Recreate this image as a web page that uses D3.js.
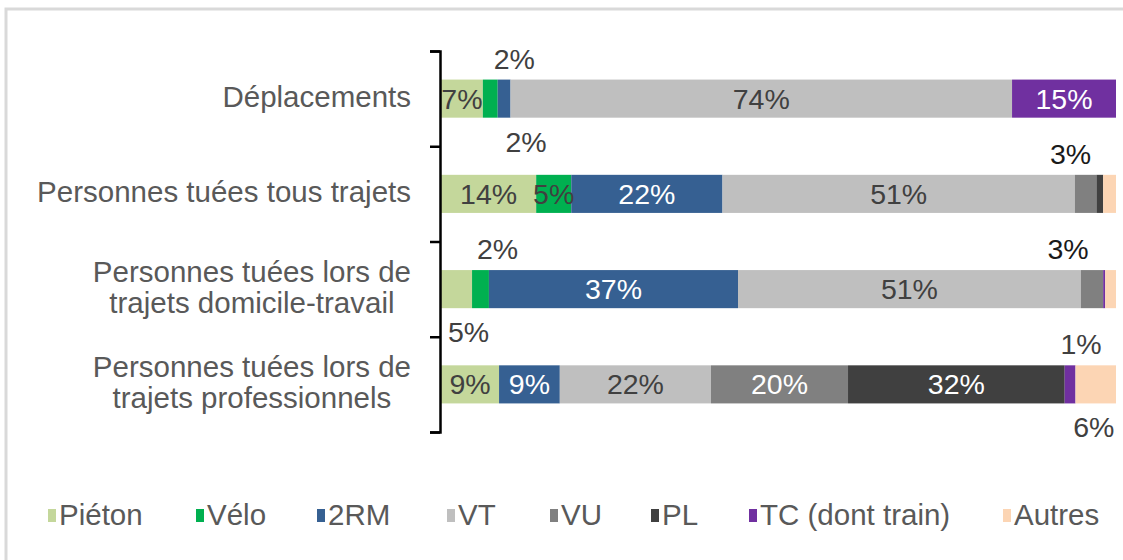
<!DOCTYPE html>
<html>
<head>
<meta charset="utf-8">
<script src="https://cdn.jsdelivr.net/npm/d3@7"></script>
<style>
  html, body { margin: 0; padding: 0; background: #fff; }
  svg text { font-family: "Liberation Sans", Arial, sans-serif; }
</style>
</head>
<body>
<svg id="chart" width="1123" height="560"></svg>
<script>
// categories, top to bottom
const categories = [
  'Déplacements',
  'Personnes tuées tous trajets',
  'Personnes tuées lors de\ntrajets domicile-travail',
  'Personnes tuées lors de\ntrajets professionnels'
];

const seriesNames = ['Piéton', 'Vélo', '2RM', 'VT', 'VU', 'PL', 'TC (dont train)', 'Autres'];

// shares in %, one array per series, in category order
const pieton = [6.2, 14.1, 4.6, 8.6];
const velo = [2.2, 5.2, 2.5, 0];
const deuxRM = [1.9, 22.4, 36.9, 9.0];
const vt = [74.3, 52.2, 50.8, 22.4];
const vu = [0, 3.2, 3.3, 20.3];
const pl = [0, 1.0, 0, 32.1];
const tc = [15.4, 0, 0.3, 1.6];
const autres = [0, 1.9, 1.6, 6.0];

// label text shown for each segment (null = no label)
const pietonLabels = ['7%', '14%', '5%', '9%'];
const veloLabels = ['2%', '5%', '2%', null];
const deuxRMLabels = ['2%', '22%', '37%', '9%'];
const vtLabels = ['74%', '51%', '51%', '22%'];
const vuLabels = [null, '3%', '3%', '20%'];
const plLabels = [null, null, null, '32%'];
const tcLabels = ['15%', null, null, '1%'];
const autresLabels = [null, null, null, '6%'];

const seriesValues = [pieton, velo, deuxRM, vt, vu, pl, tc, autres];
const seriesLabels = [pietonLabels, veloLabels, deuxRMLabels, vtLabels, vuLabels, plLabels, tcLabels, autresLabels];

const colors = ['#C4D79B', '#00B050', '#366092', '#BFBFBF', '#808080', '#404040', '#7030A0', '#FCD5B4'];
const insideText = ['#404040', '#404040', '#ffffff', '#404040', '#ffffff', '#ffffff', '#ffffff', '#404040'];

// labels that Excel moved outside the bar: [category index, series index] -> placement
const outsideLabels = {
  '0-1': {pos: 'above', dx: 24},
  '0-2': {pos: 'below', dx: 22},
  '1-4': {pos: 'above', dx: -15, color: '#1a1a1a'},
  '2-0': {pos: 'below', dx: 12},
  '2-1': {pos: 'above', dx: 17},
  '2-4': {pos: 'above', dx: -24, color: '#1a1a1a'},
  '3-6': {pos: 'above', dx: 11},
  '3-7': {pos: 'below', dx: -2}
};

const table = categories.map((c, i) => {
  const row = {category: c};
  seriesNames.forEach((s, j) => { row[s] = seriesValues[j][i]; });
  return row;
});

const svg = d3.select('#chart');

// light frame of the chart area
svg.append('rect')
  .attr('x', 6).attr('y', 9)
  .attr('width', 1140).attr('height', 580)
  .attr('fill', 'none')
  .attr('stroke', '#d9d9d9')
  .attr('stroke-width', 3);

const x = d3.scaleLinear().domain([0, 100]).range([441, 1116]);
const y = d3.scaleBand()
  .domain(categories)
  .range([51, 432])
  .paddingInner(0.6)
  .paddingOuter(0.3);

const stack = d3.stack().keys(seriesNames);
const layers = stack(table);

const g = svg.append('g');

layers.forEach((layer, j) => {
  g.selectAll('.seg-' + j)
    .data(layer)
    .enter()
    .append('rect')
    .attr('class', 'seg-' + j)
    .attr('x', d => x(d[0]))
    .attr('y', d => y(d.data.category))
    .attr('width', d => Math.max(0, x(d[1]) - x(d[0])))
    .attr('height', y.bandwidth())
    .attr('fill', colors[j]);
});

// data labels
layers.forEach((layer, j) => {
  layer.forEach((d, i) => {
    const txt = seriesLabels[j][i];
    if (!txt) return;
    const key = i + '-' + j;
    const cx = (x(d[0]) + x(d[1])) / 2;
    const cy = y(d.data.category) + y.bandwidth() / 2;
    const out = outsideLabels[key];
    let tx = cx, ty = cy, fill = insideText[j];
    if (out) {
      tx = cx + out.dx;
      ty = out.pos === 'above' ? cy - 40 : cy + 43;
      fill = out.color || '#404040';
    }
    g.append('text')
      .attr('x', tx)
      .attr('y', ty)
      .attr('dy', '0.35em')
      .attr('text-anchor', 'middle')
      .attr('font-size', 28.5)
      .attr('fill', fill)
      .text(txt);
  });
});

// vertical axis with ticks on the category boundaries
const yEdge = d3.scaleLinear().domain([0, categories.length]).range([51, 432]);
const axis = svg.append('g')
  .attr('transform', 'translate(440,0)')
  .call(d3.axisLeft(yEdge).ticks(categories.length).tickSize(10).tickSizeOuter(10).tickFormat(''));
axis.selectAll('path, line')
  .attr('stroke', '#000')
  .attr('stroke-width', 2.5);

// category labels, right aligned, multi-line centred
categories.forEach(c => {
  const lines = c.split('\n');
  const cy = y(c) + y.bandwidth() / 2;
  const lh = 31;
  const t = svg.append('text')
    .attr('font-size', 29.5)
    .attr('fill', '#595959')
    .attr('text-anchor', 'middle');
  lines.forEach((ln, k) => {
    t.append('tspan')
      .attr('y', cy - 2 + (k - (lines.length - 1) / 2) * lh)
      .attr('dy', '0.35em')
      .text(ln);
  });
  const widths = [];
  t.selectAll('tspan').each(function () { widths.push(this.getComputedTextLength()); });
  const w = d3.max(widths);
  t.selectAll('tspan').attr('x', 411 - w / 2);
});

// legend
const legendTextX = [59, 207, 328, 458, 561, 662, 760, 1014];
const legend = svg.append('g');
seriesNames.forEach((s, j) => {
  legend.append('rect')
    .attr('x', legendTextX[j] - 11).attr('y', 509)
    .attr('width', 8).attr('height', 13)
    .attr('fill', colors[j]);
  legend.append('text')
    .attr('x', legendTextX[j])
    .attr('y', 515)
    .attr('dy', '0.35em')
    .attr('font-size', 29.5)
    .attr('fill', '#595959')
    .text(s);
});
</script>
</body>
</html>
